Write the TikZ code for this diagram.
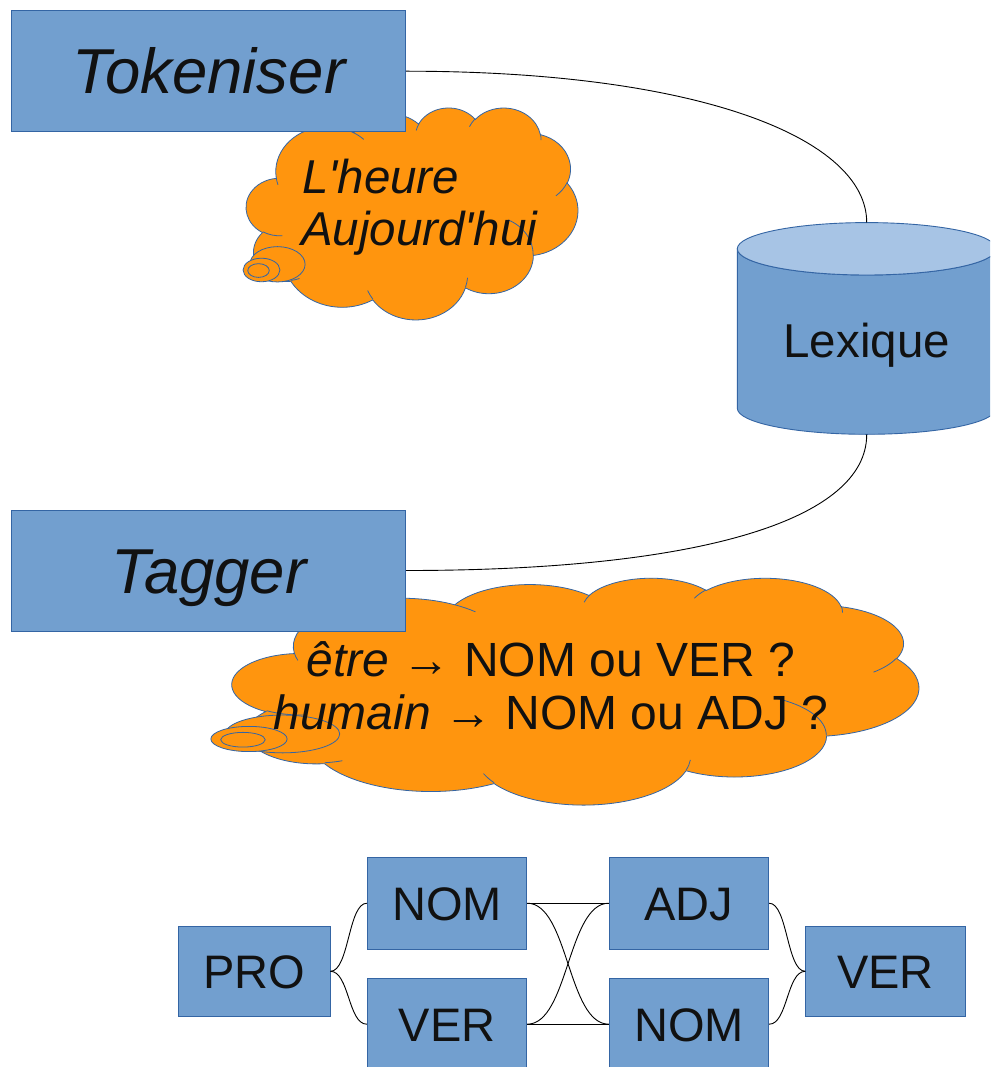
\documentclass[tikz,border=0pt]{standalone}
\usepackage{fontspec}
\newfontfamily\lsans{Liberation Sans}
\definecolor{boxfill}{HTML}{729FCF}
\definecolor{boxline}{HTML}{3465A4}
\definecolor{lidfill}{HTML}{A7C4E5}
\definecolor{puffill}{HTML}{FF950E}
\definecolor{ink}{HTML}{111111}
\tikzset{
  stage/.style={draw=boxline, fill=boxfill, line width=0.9pt, inner sep=0pt,
    minimum width=394pt, minimum height=121pt, text=ink,
    font=\lsans\itshape\fontsize{63.5}{72}\selectfont, text height=45.5pt, text depth=0pt},
  tagbox/.style={draw=boxline, fill=boxfill, line width=0.9pt, inner sep=0pt,
    minimum width=159.4pt, minimum height=91.7pt, text=ink,
    font=\lsans\fontsize{47}{54}\selectfont, text height=33.7pt, text depth=0pt},
  link/.style={draw=black, line width=0.9pt},
  puff/.style={fill=puffill, draw=boxline, line width=0.8pt},
  fold/.style={draw=boxline, line width=0.8pt},
  thought/.style={text=ink, inner sep=0pt},
  % outline of the thought cloud, in a 432 x 432 frame
  cloud outline/.style={insert path={
    (39.00,143.70)
    arc[start angle=-187.75,end angle=-59.65,x radius=67.53,y radius=91.90]
    arc[start angle=-152.02,end angle=-45.46,x radius=53.33,y radius=72.67]
    arc[start angle=-153.49,end angle=-37.33,x radius=43.65,y radius=59.45]
    arc[start angle=-139.72,end angle=-10.22,x radius=48.57,y radius=65.95]
    arc[start angle=-74.77,end angle=23.21,x radius=53.33,y radius=72.73]
    arc[start angle=-37.52,end angle=81.86,x radius=67.75,y radius=92.20]
    arc[start angle=0.46,end angle=121.99,x radius=57.85,y radius=78.67]
    arc[start angle=16.84,end angle=146.24,x radius=67.52,y radius=92.15]
    arc[start angle=58.98,end angle=150.19,x radius=77.20,y radius=105.43]
    arc[start angle=-276.69,end angle=-136.88,x radius=43.60,y radius=59.18]
    arc[start angle=-239.64,end angle=-95.89,x radius=43.45,y radius=59.45]
    -- cycle}},
  % short inner creases between the puffs
  cloud folds/.style={insert path={
    (46.93,261.77) arc[start angle=85.54,end angle=120.36,x radius=43.45,y radius=59.45]
    (69.28,348.99) arc[start angle=68.23,end angle=83.31,x radius=43.60,y radius=59.18]
    (164.78,390.90) arc[start angle=146.24,end angle=158.47,x radius=67.52,y radius=92.15]
    (288.27,347.51) arc[start angle=4.74,end angle=16.84,x radius=67.52,y radius=92.15]
    (341.29,229.54) arc[start angle=-64.02,end angle=0.46,x radius=57.85,y radius=78.67]
    (417.98,153.54) arc[start angle=23.21,end angle=49.65,x radius=53.33,y radius=72.73]
    (383.24,54.26) arc[start angle=-10.22,end angle=0.82,x radius=48.57,y radius=65.95]
    (290.78,39.52) arc[start angle=-156.30,end angle=-139.72,x radius=48.57,y radius=65.95]
    (221.41,47.20) arc[start angle=-167.72,end angle=-153.49,x radius=43.65,y radius=59.45]
    (140.00,51.92) arc[start angle=-59.65,end angle=-45.74,x radius=67.53,y radius=91.90]
    (41.27,157.89) arc[start angle=163.19,end angle=172.25,x radius=67.53,y radius=91.90]}},
}
\begin{document}
\begin{tikzpicture}[x=1pt, y=-1pt]
\path[use as bounding box] (0,0) rectangle (990,1067);
\clip (0,0) rectangle (990,1067);
\fill[white] (0,0) rectangle (990,1067);

% first thought cloud
\begin{scope}[shift={(246.3pt,-107.3pt)}, x=0.7675pt, y=-0.4906pt]
  \path[puff, cloud outline];
  \path[puff] (40.6,320) ellipse[x radius=36, y radius=36];
  \path[puff] (19.8,331.6) ellipse[x radius=24, y radius=24];
  \path[puff] (15.9,332.7) ellipse[x radius=14, y radius=14];
  \path[fold, cloud folds];
\end{scope}

% second thought cloud
\begin{scope}[shift={(232.3pt,-577.5pt)}, x=1.589pt, y=-0.525pt]
  \path[puff, cloud outline];
  \path[puff] (31.6,298) ellipse[x radius=36, y radius=36];
  \path[puff] (10.5,307.6) ellipse[x radius=24, y radius=24];
  \path[puff] (6.7,309) ellipse[x radius=14, y radius=14];
  \path[fold, cloud folds];
\end{scope}

\node[thought, anchor=base west, font=\lsans\itshape\fontsize{47.5}{54}\selectfont] (wordA) at (302,193.3) {L'heure};
\node[thought, anchor=base west, font=\lsans\itshape\fontsize{47.5}{54}\selectfont] (wordB) at (301,245) {Aujourd'hui};
\node[thought, anchor=base, font=\lsans\fontsize{48}{55}\selectfont] (askA) at (551,676) {{\itshape être} → NOM ou VER ?};
\node[thought, anchor=base, font=\lsans\fontsize{48}{55}\selectfont] (askB) at (551,729.3) {{\itshape humain} → NOM ou ADJ ?};

% processing stages
\node[stage] (tok) at (208.7,71.2) {Tokeniser};
\node[stage] (tag) at (208.7,570.5) {Tagger};

% lexicon cylinder
\path[fill=boxfill, draw=boxline, line width=0.9pt]
  (737.3,248.8) -- (737.3,408.3)
  arc[start angle=180, end angle=0, x radius=129.4, y radius=26]
  -- (996.1,248.8)
  arc[start angle=0, end angle=180, x radius=129.4, y radius=26.2] -- cycle;
\path[fill=lidfill, draw=boxline, line width=0.9pt]
  (866.7,248.8) ellipse[x radius=129.4, y radius=26.2];
\node[inner sep=0pt, minimum width=258.8pt, minimum height=211.6pt, text=ink,
  font=\lsans\fontsize{47.5}{55}\selectfont, text height=57.6pt, text depth=0pt]
  (lex) at (866.7,328.5) {Lexique};

\draw[link] (tok.east) .. controls +(294.3,0) and +(0,-83.7) .. (lex.north);
\draw[link] (lex.south) .. controls +(0,85) and +(295,0) .. (tag.east);

% tag lattice
\node[tagbox, minimum width=152pt, minimum height=90.7pt] (pro) at (254,971.3) {PRO};
\node[tagbox] (nomA) at (447,903.2) {NOM};
\node[tagbox] (verA) at (447,1024.2) {VER};
\node[tagbox] (adj) at (689,903.2) {ADJ};
\node[tagbox] (nomB) at (689,1024.2) {NOM};
\node[tagbox, minimum height=90.7pt] (verB) at (885.4,971.3) {VER};

\draw[link] (pro.east) .. controls +(18.7,0) and +(-18.7,0) .. (nomA.west);
\draw[link] (pro.east) .. controls +(18.7,0) and +(-18.7,0) .. (verA.west);
\draw[link] (nomA.east) -- (adj.west);
\draw[link] (verA.east) -- (nomB.west);
\draw[link] (nomA.east) .. controls +(41.3,0) and +(-41.3,0) .. (nomB.west);
\draw[link] (verA.east) .. controls +(41.3,0) and +(-41.3,0) .. (adj.west);
\draw[link] (adj.east) .. controls +(18.5,0) and +(-18.5,0) .. (verB.west);
\draw[link] (nomB.east) .. controls +(18.5,0) and +(-18.5,0) .. (verB.west);
\end{tikzpicture}
\end{document}
